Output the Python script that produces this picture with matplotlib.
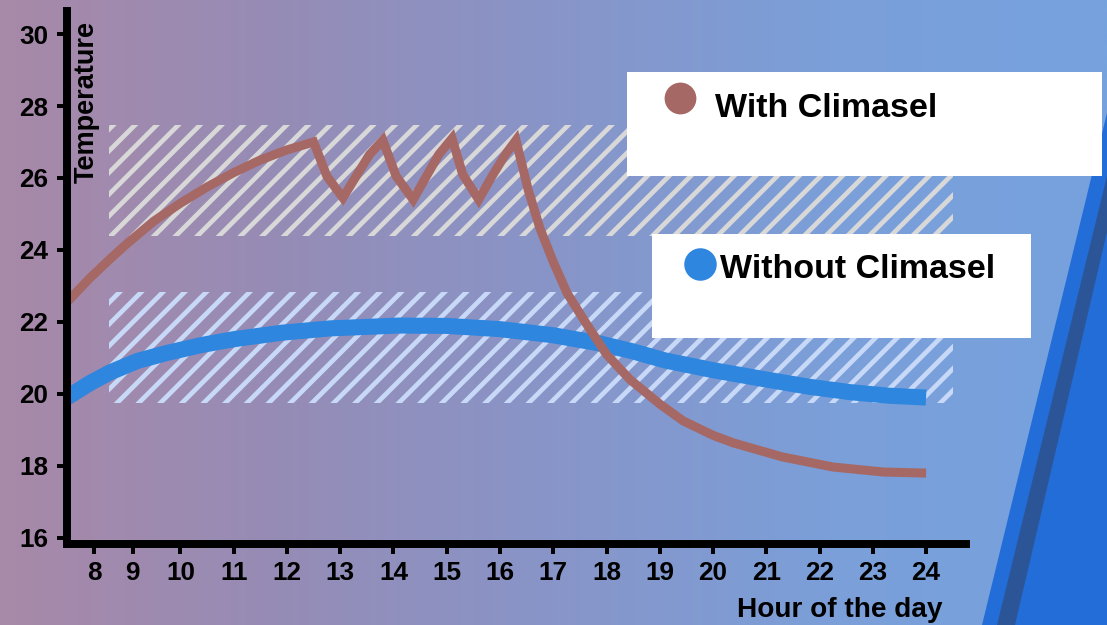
import numpy as np
import matplotlib.pyplot as plt
from matplotlib.patches import Rectangle, Polygon
from matplotlib.lines import Line2D

# Temperature over the day, with and without Climasel
hours_with = [7.87, 8.3, 8.7, 9.0, 9.5, 10.0, 10.5, 11.0, 11.5, 12.0, 12.5,
              12.75, 13.05, 13.3, 13.55, 13.8,
              14.05, 14.37, 14.6, 14.85, 15.1,
              15.3, 15.6, 15.85, 16.1, 16.3,
              16.53, 16.75, 17.0, 17.26, 17.6, 18.0, 18.44, 19.0, 19.44, 20.0,
              20.38, 21.3, 22.25, 23.2, 24.0]
temp_with = [22.55, 23.22, 23.78, 24.18, 24.8, 25.3, 25.75, 26.15, 26.5, 26.78, 27.0,
             26.05, 25.45, 26.05, 26.65, 27.05,
             26.05, 25.4, 26.0, 26.65, 27.1,
             26.1, 25.4, 26.05, 26.65, 27.05,
             25.67, 24.6, 23.67, 22.8, 22.0, 21.1, 20.4, 19.72, 19.25, 18.85,
             18.64, 18.25, 17.97, 17.83, 17.8]

hours_without = [7.87, 8.3, 8.68, 9.2, 9.75, 10.4, 11.0, 11.9, 12.8, 14.1, 15.0,
                 16.0, 17.0, 17.88, 18.5, 19.1, 20.0, 21.0, 21.8, 22.57, 23.3, 24.0]
temp_without = [19.9, 20.3, 20.6, 20.92, 21.14, 21.36, 21.52, 21.7, 21.82, 21.9, 21.89,
                21.8, 21.63, 21.4, 21.18, 20.93, 20.66, 20.4, 20.2, 20.05, 19.95, 19.9]

# target ranges (hatched bands)
band_hours = (8.66, 24.51)
band_with = (24.39, 27.47)
band_without = (19.75, 22.84)

xtick_pos = [8.38, 9.1, 10, 11, 12, 13, 14, 15, 16, 17, 18, 19, 20, 21, 22, 23, 24]
xtick_labels = [str(h) for h in range(8, 25)]
yticks = [16, 18, 20, 22, 24, 26, 28, 30]

col_with = '#a66864'
col_without = '#2e86de'

W, H, DPI = 1107, 625, 130
plt.rcParams['font.family'] = ['Liberation Sans', 'DejaVu Sans']
plt.rcParams['hatch.linewidth'] = 2.6


def fx(x):
    return x / W


def fy(y):
    return 1 - y / H


fig = plt.figure(figsize=(W / DPI, H / DPI), dpi=DPI)

# background gradient
bg = fig.add_axes([0, 0, 1, 1], zorder=-10)
stops = np.array([[168, 137, 168], [150, 140, 182], [136, 149, 200],
                  [123, 159, 217], [118, 162, 222]]) / 255
sx = np.linspace(0, 1, len(stops))
g = np.linspace(0, 1, 500)
grad = np.stack([np.interp(g, sx, stops[:, c]) for c in range(3)], axis=-1)[None, :, :]
bg.imshow(grad, aspect='auto', extent=[0, 1, 0, 1])
bg.set_xlim(0, 1)
bg.set_ylim(0, 1)
bg.axis('off')

# blue stripes on the right edge
fig.patches.append(Polygon([(fx(1107), fy(113)), (fx(982), fy(625)), (fx(1107), fy(625))],
                           closed=True, transform=fig.transFigure,
                           facecolor='#236dd8', edgecolor='none'))
fig.patches.append(Polygon([(fx(1107), fy(176)), (fx(997), fy(625)), (fx(1015), fy(625)),
                            (fx(1107), fy(232))],
                           closed=True, transform=fig.transFigure,
                           facecolor='#2b5597', edgecolor='none'))

ax = fig.add_axes([fx(67), fy(544), (966 - 67) / W, (544 - 11) / H])
ax.set_facecolor('none')

ax.add_patch(Rectangle((band_hours[0], band_with[0]), band_hours[1] - band_hours[0],
                       band_with[1] - band_with[0], facecolor='none',
                       edgecolor='#d8d8d8', linewidth=0, hatch='//'))
ax.add_patch(Rectangle((band_hours[0], band_without[0]), band_hours[1] - band_hours[0],
                       band_without[1] - band_without[0], facecolor='none',
                       edgecolor='#c8d9f8', linewidth=0, hatch='//'))

ax.plot(hours_without, temp_without, color=col_without, lw=8.9,
        solid_capstyle='butt', solid_joinstyle='round')
ax.plot(hours_with, temp_with, color=col_with, lw=5,
        solid_capstyle='butt', solid_joinstyle='miter')

ax.set_xlim(7.87, 24.75)
ax.set_ylim(15.83, 30.64)
ax.set_xticks(xtick_pos, xtick_labels)
ax.set_yticks(yticks)
for s in ['top', 'right']:
    ax.spines[s].set_visible(False)
for s in ['left', 'bottom']:
    ax.spines[s].set_linewidth(4.4)
ax.tick_params(axis='both', length=5.5, width=2.2, labelsize=14.5, direction='out')
ax.tick_params(axis='y', pad=5)
ax.tick_params(axis='x', pad=4)
for lbl in ax.get_xticklabels() + ax.get_yticklabels():
    lbl.set_fontweight('bold')

ax.text((87 - 67) / 899, (544 - 102) / 533, 'Temperature', transform=ax.transAxes,
        rotation=90, ha='center', va='center', fontsize=15, fontweight='bold')
fig.text(fx(840), fy(617), 'Hour of the day', ha='center', va='baseline',
         fontsize=15.5, fontweight='bold')

# legend boxes
fig.patches.append(Rectangle((fx(627), fy(176)), (1102 - 627) / W, 104 / H,
                             transform=fig.transFigure, facecolor='white', edgecolor='none'))
fig.patches.append(Rectangle((fx(652), fy(338)), (1031 - 652) / W, 104 / H,
                             transform=fig.transFigure, facecolor='white', edgecolor='none'))
fig.add_artist(Line2D([fx(680)], [fy(98)], transform=fig.transFigure, marker='o',
                      markersize=16.6, color=col_with, linestyle='none'))
fig.add_artist(Line2D([fx(699.5)], [fy(264)], transform=fig.transFigure, marker='o',
                      markersize=17, color=col_without, linestyle='none'))
fig.text(fx(715), fy(117), 'With Climasel', ha='left', va='baseline',
         fontsize=18.8, fontweight='bold', zorder=5)
fig.text(fx(720), fy(278), 'Without Climasel', ha='left', va='baseline',
         fontsize=18.8, fontweight='bold', zorder=5)

fig.savefig('out.png', dpi=DPI)
